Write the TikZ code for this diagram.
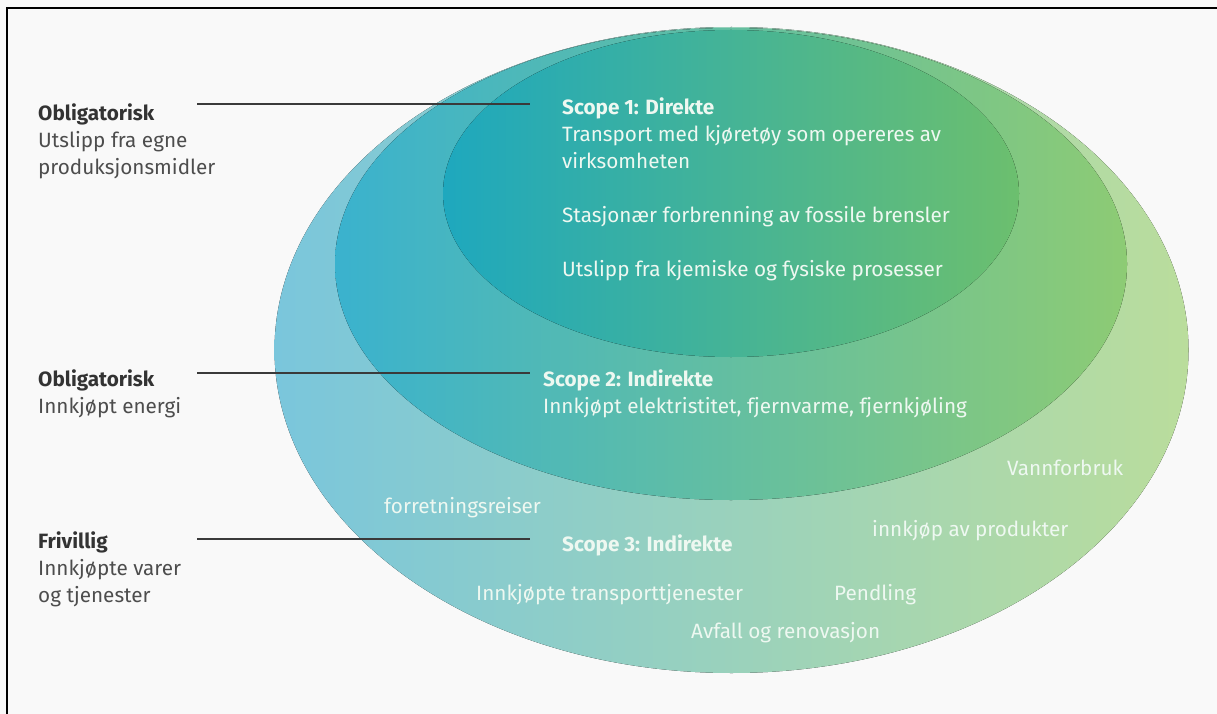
\documentclass[tikz,border=0pt]{standalone}
\usepackage{fontspec}
\setmainfont{Fira Sans}
\usetikzlibrary{positioning}

\definecolor{paper}{HTML}{F9F9F9}
\definecolor{darkline}{HTML}{3A3A3A}
\definecolor{sidetext}{HTML}{4D4D4D}
\definecolor{intext}{HTML}{EEF8F1}

\begin{document}
\begin{tikzpicture}[
    x=1pt, y=-1pt,
    outerring/.style = {left color={rgb,255:red,122;green,198;blue,220}, middle color={rgb,255:red,128;green,207;blue,196}, right color={rgb,255:red,186;green,221;blue,156}},
    midring/.style = {left color={rgb,255:red,58;green,178;blue,206}, middle color={rgb,255:red,40;green,180;blue,166}, right color={rgb,255:red,141;green,203;blue,116}},
    innerring/.style = {left color={rgb,255:red,30;green,168;blue,190}, middle color={rgb,255:red,34;green,179;blue,155}, right color={rgb,255:red,108;green,191;blue,110}},
    txt/.style = {anchor=base west, align=left, inner sep=0pt, font=\fontsize{20.7}{27}\selectfont},
    side/.style = {txt, text=sidetext},
    inside/.style = {txt, text=intext},
    leader/.style = {draw=darkline, line width=1.3pt},
    ]
    \useasboundingbox (0,0) rectangle (1217,714);
    \fill[paper] (0,0) rectangle (1217,714);
    \draw[line width=1.5pt] (7,714) -- (7,8) -- (1217,8);

    % the three scopes
    \fill[outerring] (731.5,350) ellipse [x radius=457pt, y radius=323pt];
    \fill[midring] (731,264) ellipse [x radius=396pt, y radius=236pt];
    \fill[innerring] (731,193.5) ellipse [x radius=288pt, y radius=163.5pt];

    % left side (placed by the baseline of the last line)
    \node[side] (obl1) at (38,175) {\textbf{\textcolor{black!80}{Obligatorisk}}\\Utslipp fra egne\\produksjonsmidler};
    \node[side] (obl2) at (38,413) {\textbf{\textcolor{black!80}{Obligatorisk}}\\Innkjøpt energi};
    \node[side] (friv) at (38,602) {\textbf{\textcolor{black!80}{Frivillig}}\\Innkjøpte varer\\og tjenester};

    % scope texts
    \node[inside] (s1) at (562,276) {\textbf{Scope 1: Direkte}\\Transport med kjøretøy som opereres av\\virksomheten\\[27pt]Stasjonær forbrenning av fossile brensler\\[27pt]Utslipp fra kjemiske og fysiske prosesser};
    \node[inside] (s2) at (543,413) {\textbf{Scope 2: Indirekte}\\Innkjøpt elektristitet, fjernvarme, fjernkjøling};
    \node[inside] (s3) at (562,551) {\textbf{Scope 3: Indirekte}};
    \node[inside] (reiser) at (384,513) {forretningsreiser};
    \node[inside] (vann) at (1007,475) {Vannforbruk};
    \node[inside] (prod) at (872,536) {innkjøp av produkter};
    \node[inside] (transp) at (476,600) {Innkjøpte transporttjenester};
    \node[inside] (pend) at (834,600) {Pendling};
    \node[inside] (avfall) at (691,638) {Avfall og renovasjon};

    % leader lines
    \coordinate (a1) at (197,104);
    \coordinate (b1) at (530,104);
    \coordinate (a2) at (197,373);
    \coordinate (b2) at (530,373);
    \coordinate (a3) at (197,539);
    \coordinate (b3) at (530,539);
    \path[leader] (a1) edge (b1) (a2) edge (b2) (a3) edge (b3);
  \end{tikzpicture}
\end{document}
